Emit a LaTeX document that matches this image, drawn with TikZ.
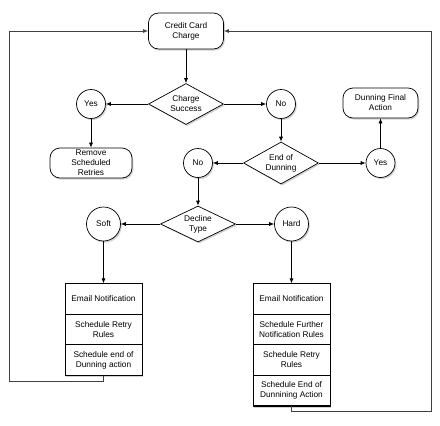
\documentclass[tikz,border=0pt]{standalone}
\usepackage{fontspec}
\setmainfont{Liberation Sans}
\usetikzlibrary{shapes.geometric,shadows,arrows.meta}
\tikzset{
  every node/.style={font=\fontsize{8.3}{10}\selectfont, align=center, inner sep=0pt},
  shad/.style={drop shadow={shadow xshift=1.3pt, shadow yshift=-1.6pt, opacity=0.35}},
  term/.style={draw, fill=white, rounded corners=10pt, line width=0.7pt, shad},
  dec/.style={draw, fill=white, diamond, aspect=1.8, line width=0.7pt, shad},
  lab/.style={draw, fill=white, circle, line width=0.7pt, shad},
  boxbg/.style={draw, fill=white, line width=0.7pt, shad},
  row/.style={draw, fill=white, line width=0.7pt, minimum width=77pt, minimum height=30.5pt},
  conn/.style={line width=0.7pt, -{Latex[length=5pt,width=4pt]}},
  loop/.style={line width=0.8pt, black!75, -{Latex[length=5pt,width=4pt]}}
}
\begin{document}
\begin{tikzpicture}[x=1pt,y=-1pt]
\useasboundingbox[fill=white] (0,0) rectangle (440,426);
% nodes
\node[term, minimum width=75pt, minimum height=36pt] (ccc) at (186,31) {Credit Card\\Charge};
\node[dec, minimum width=75pt, minimum height=41pt] (cs) at (186,104) {Charge\\Success};
\node[lab, minimum size=29pt] (yes1) at (91,104) {Yes};
\node[lab, minimum size=29pt] (no1) at (281,104) {No};
\node[term, minimum width=82pt, minimum height=30pt] (rsr) at (91,163) {Remove\\Scheduled\\Retries};
\node[term, minimum width=75pt, minimum height=30pt] (dfa) at (380.5,103) {Dunning Final\\Action};
\node[dec, minimum width=75pt, minimum height=42pt] (eod) at (281,163) {End of\\Dunning};
\node[lab, minimum size=29pt] (no2) at (198,163) {No};
\node[lab, minimum size=29pt] (yes2) at (380.5,163) {Yes};
\node[dec, minimum width=75pt, minimum height=36pt] (dt) at (198,224) {Decline\\Type};
\node[lab, minimum size=34pt] (soft) at (103.5,224) {Soft};
\node[lab, minimum size=34pt] (hard) at (291.5,224) {Hard};
% soft box
\node[boxbg, minimum width=77pt, minimum height=91pt] (softbox) at (103.5,329.5) {};
\node[row] (s1) at (103.5,299) {Email Notification};
\node[row] (s2) at (103.5,329.5) {Schedule Retry\\Rules};
\node[row] (s3) at (103.5,360) {Schedule end of\\Dunning action};
% hard box
\node[boxbg, minimum width=77pt, minimum height=122pt] (hardbox) at (291.5,345) {};
\node[row] (h1) at (291.5,299) {Email Notification};
\node[row] (h2) at (291.5,329.5) {Schedule Further\\Notification Rules};
\node[row] (h3) at (291.5,360) {Schedule Retry\\Rules};
\node[row] (h4) at (291.5,390.5) {Schedule End of\\Dunnining Action};
% loop corners
\coordinate (lb) at (9.5,381.5);
\coordinate (rb) at (431,411.5);
% connectors
\draw[conn] (ccc) -- (cs);
\draw[conn] (cs) -- (yes1);
\draw[conn] (cs) -- (no1);
\draw[conn] (yes1) -- (rsr);
\draw[conn] (no1) -- (eod);
\draw[conn] (eod) -- (no2);
\draw[conn] (eod) -- (yes2);
\draw[conn] (yes2) -- (dfa);
\draw[conn] (no2) -- (dt);
\draw[conn] (dt) -- (soft);
\draw[conn] (dt) -- (hard);
\draw[conn] (soft) -- (s1);
\draw[conn] (hard) -- (h1);
\draw[loop] (s3.south) |- (lb) |- (ccc.west);
\draw[loop] (h4.south) |- (rb) |- (ccc.east);
\end{tikzpicture}
\end{document}
